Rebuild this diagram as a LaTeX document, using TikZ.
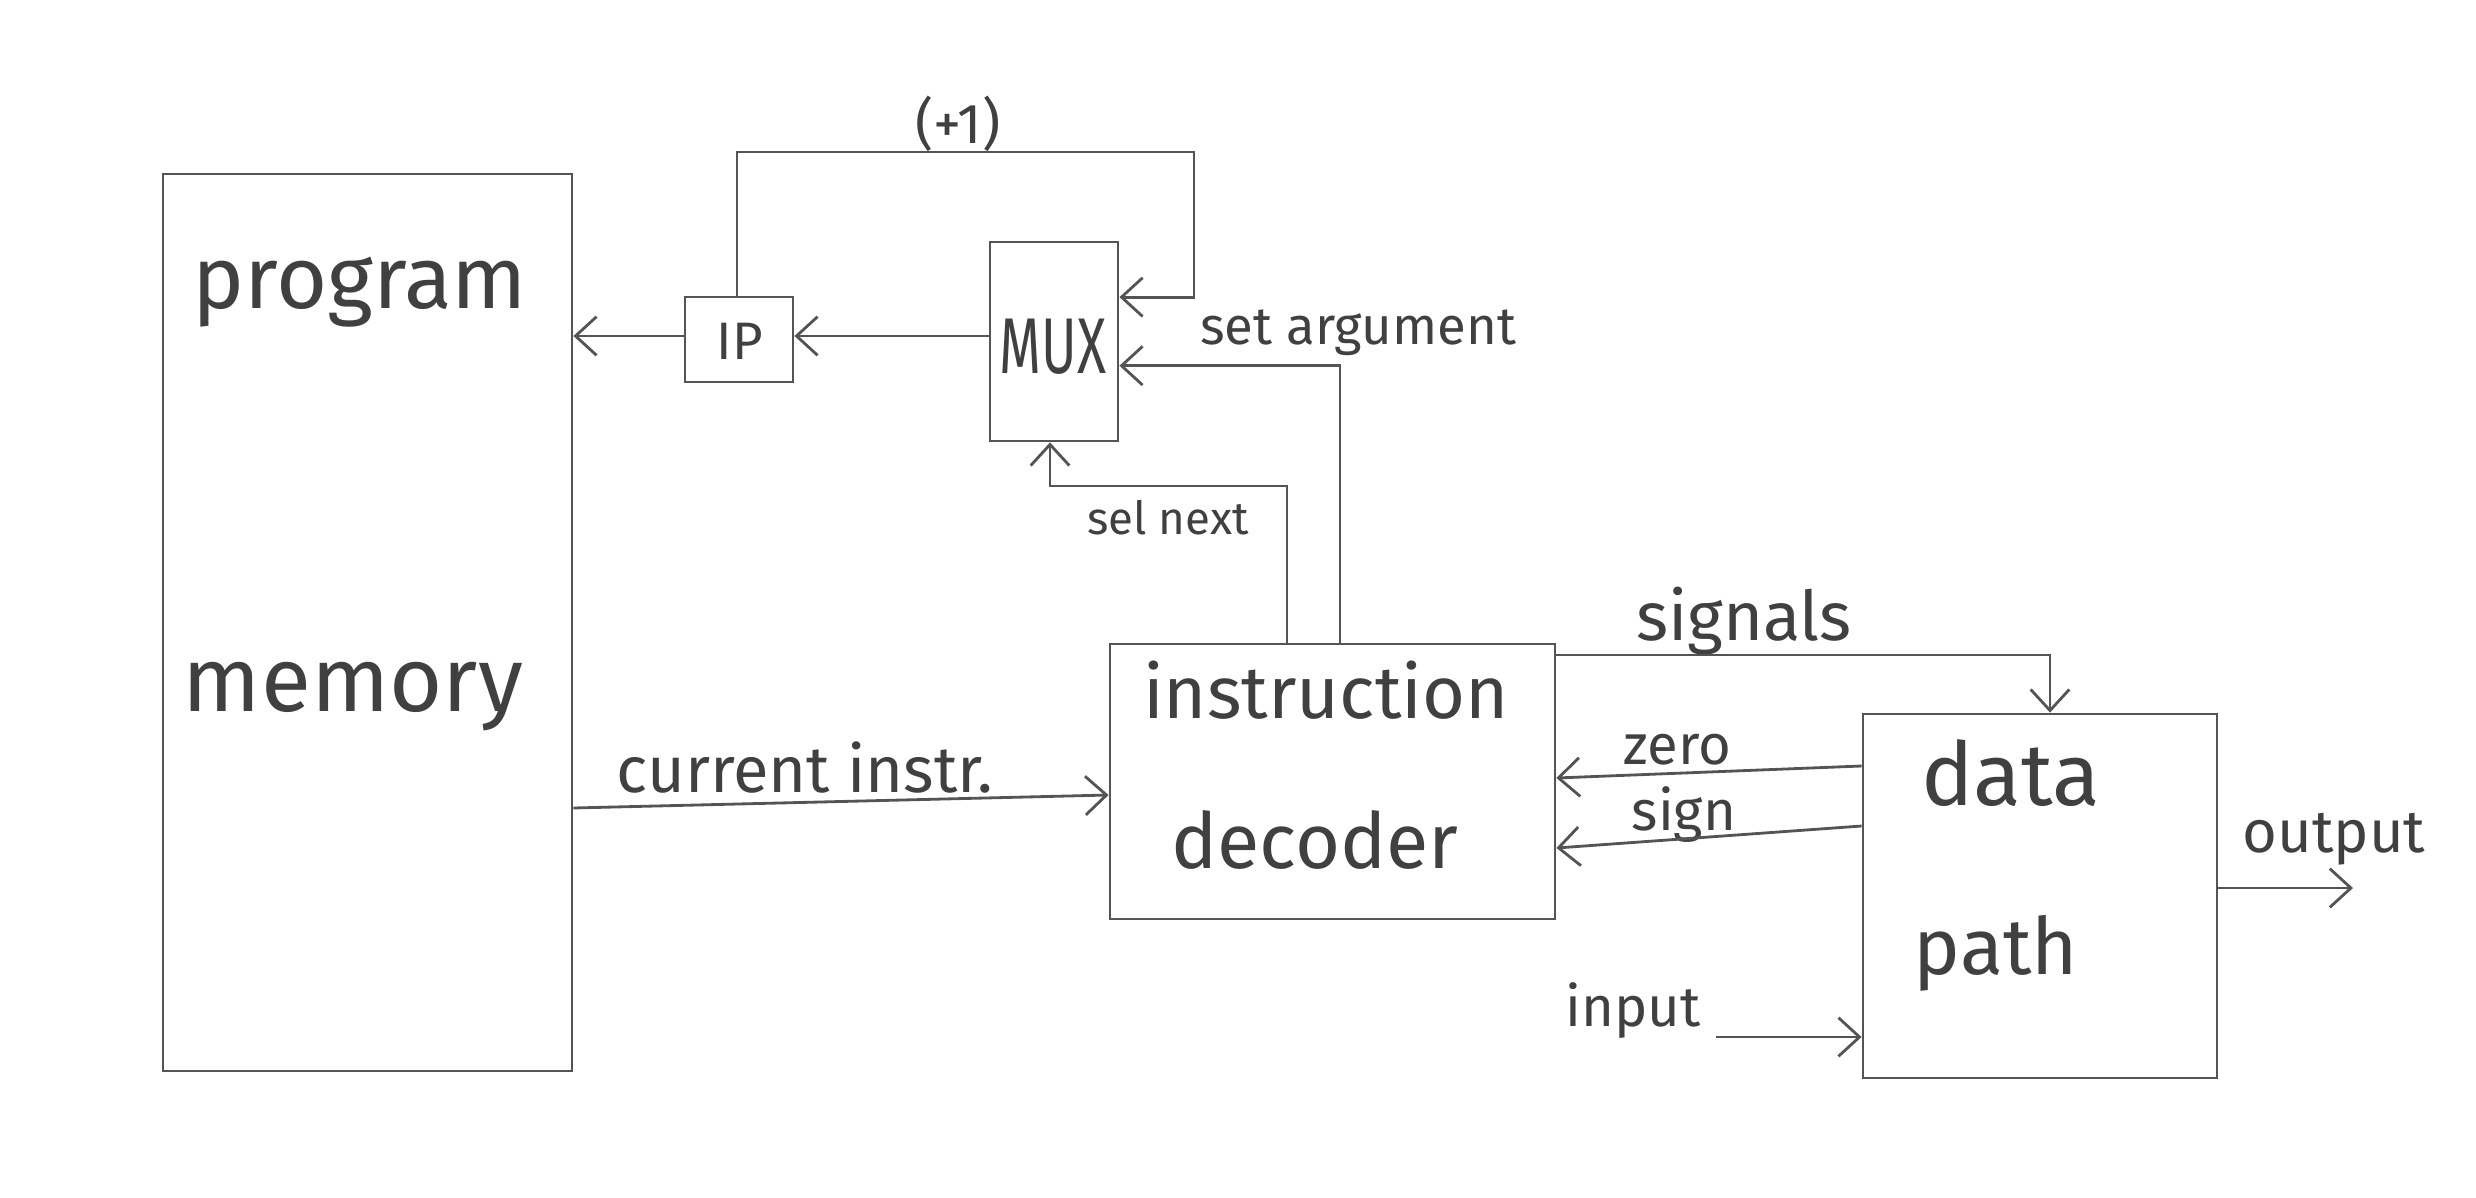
\documentclass[tikz,border=0pt]{standalone}
\usepackage{fontspec}
\setmainfont{Fira Sans}
\usetikzlibrary{arrows.meta,calc}
\definecolor{pencil}{gray}{0.33}
\definecolor{lead}{gray}{0.25}
\tikzset{
  wire/.style={draw=pencil, line width=0.8pt},
  arr/.style={wire, -{Straight Barb[length=6pt,width=11pt,line width=0.8pt]}},
  block/.style={draw=pencil, line width=0.8pt, rectangle, inner sep=0pt},
  lbl/.style={text=lead, inner sep=0pt, anchor=base},
}
\newcommand{\fs}[1]{\fontsize{#1}{#1}\selectfont}
\begin{document}
\begin{tikzpicture}
\useasboundingbox (0,0) rectangle (24.76,-11.98);
% blocks
\node[block, minimum width=4.09cm, minimum height=8.97cm] (mem) at (3.675,-6.225) {};
\node[block, minimum width=1.08cm, minimum height=0.85cm] (ip) at (7.39,-3.395) {};
\node[block, minimum width=1.28cm, minimum height=1.99cm] (mux) at (10.54,-3.415) {};
\node[block, minimum width=4.45cm, minimum height=2.75cm] (dec) at (13.325,-7.815) {};
\node[block, minimum width=3.54cm, minimum height=3.64cm] (dp) at (20.40,-8.96) {};
% block texts
\node[lbl, font=\fs{25}] (tprog) at (3.60,-3.08) {program};
\node[lbl, font=\fs{26}] (tmem) at (3.53,-7.11) {memory};
\node[lbl, font=\fs{15}] (tip) at (7.40,-3.59) {IP};
\node[lbl, font=\fs{18}] (tmux) at (10.53,-3.73) {\scalebox{0.85}[1.25]{MUX}};
\node[lbl, font=\fs{21}] (tins) at (13.26,-7.18) {instruction};
\node[lbl, font=\fs{22}] (tdecd) at (13.15,-8.68) {decoder};
\node[lbl, font=\fs{25}] (tdata) at (20.11,-8.05) {data};
\node[lbl, font=\fs{22.5}] (tpath) at (19.96,-9.74) {path};
% connector labels
\node[lbl, font=\fs{16}] (tplus) at (9.58,-1.43) {(+1)};
\node[lbl, font=\fs{15}] (tset) at (13.58,-3.44) {set argument};
\node[lbl, font=\fs{13}] (tsel) at (11.68,-5.34) {sel next};
\node[lbl, font=\fs{18.5}] (tcur) at (8.05,-7.92) {current instr.};
\node[lbl, font=\fs{19.5}] (tsig) at (17.44,-6.40) {signals};
\node[lbl, font=\fs{16}] (tzero) at (16.77,-7.64) {zero};
\node[lbl, font=\fs{16}] (tsign) at (16.84,-8.30) {sign};
\node[lbl, font=\fs{16}] (tin) at (16.33,-10.26) {input};
\node[lbl, font=\fs{17}] (tout) at (23.34,-8.52) {output};
% helper coordinates
\coordinate (loopTL) at (7.37,-1.52);
\coordinate (loopTR) at (11.94,-1.52);
\coordinate (muxA) at ($(mux.north east)!0.28!(mux.south east)$);
\coordinate (muxB) at ($(mux.north east)!0.62!(mux.south east)$);
\coordinate (selX) at (12.87,-4.86);
\coordinate (setX) at (13.40,-3.66);
\coordinate (inS) at (17.16,-10.37);
\coordinate (outE) at (23.53,-8.88);
% connectors
\draw[arr] (mux.west |- 0,-3.36) -- (ip.east |- 0,-3.36);
\draw[arr] (ip.west |- 0,-3.36) -- (mem.east |- 0,-3.36);
\draw[arr] (ip.north -| loopTL) -- (loopTL) -- (loopTR) |- (muxA);
\draw[arr] (dec.north -| setX) |- (muxB);
\draw[arr] (dec.north -| selX) -- (selX) -| (mux.south -| 10.50,0);
\draw[arr] (mem.east |- 0,-8.08) -- (dec.west |- 0,-7.95);
\draw[arr] (dec.east |- 0,-6.55) -| (dp.north -| 20.50,0);
\draw[arr] (dp.west |- 0,-7.66) -- (dec.east |- 0,-7.78);
\draw[arr] (dp.west |- 0,-8.26) -- (dec.east |- 0,-8.48);
\draw[arr] (inS) -- (dp.west |- inS);
\draw[arr] (dp.east |- outE) -- (outE);
\end{tikzpicture}
\end{document}
